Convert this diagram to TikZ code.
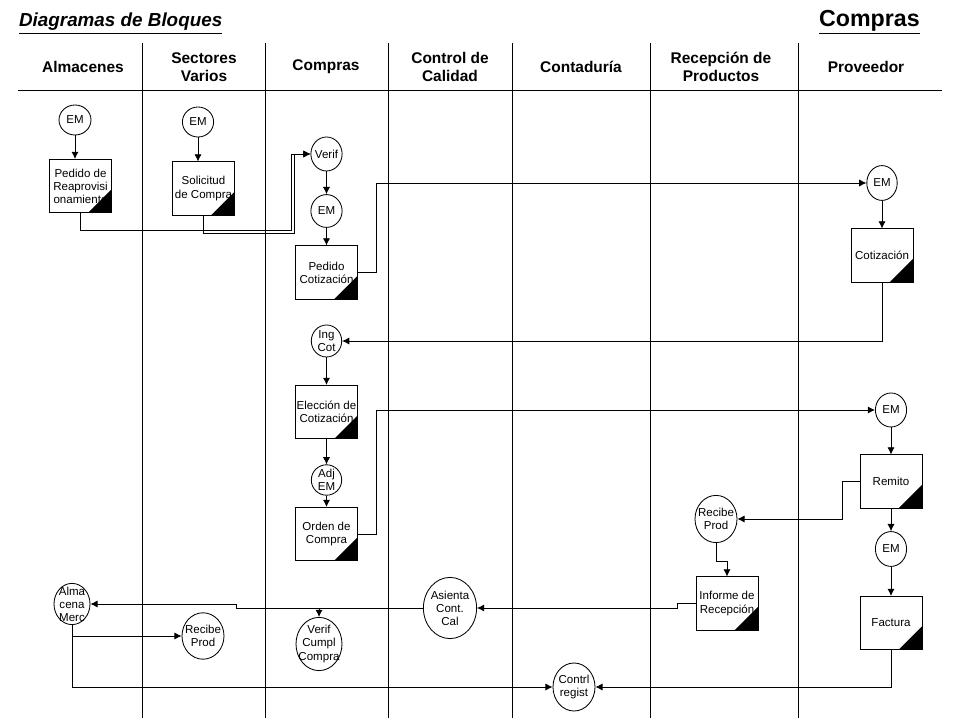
\documentclass[tikz,border=0pt]{standalone}
\usepackage{fontspec}
\setmainfont{Liberation Sans}
\usetikzlibrary{positioning, arrows.meta, shapes.geometric}

\newcommand{\textonodo}{\fontsize{8.2}{9.3}\selectfont}
\newcommand{\textocarril}{\fontsize{11}{12.8}\selectfont\bfseries}

\begin{document}
\begin{tikzpicture}[x=0.025cm, y=-0.025cm, line width=0.6pt,
    evento/.style={draw, ellipse, inner sep=-4pt, align=center, font=\textonodo, minimum width=0.78cm, minimum height=0.8cm},
    docu/.style={draw, rectangle, inner sep=1pt, align=center, font=\textonodo, minimum width=1.55cm, minimum height=1.33cm,
        path picture={\fill (path picture bounding box.south east) -- ++(-0.58cm,0) -- ++(0.58cm,0.58cm) -- cycle;}},
    carril/.style={align=center, font=\textocarril},
    flecha/.style={-{Latex[length=1.8mm,width=1.8mm]}}]
            \useasboundingbox (0,0) rectangle (960,720);
            % Carriles
            \foreach \x in {142,265,388,512,650,798} \draw (\x,43) -- (\x,718);
            \draw (18,90) -- (942,90);
            \node[anchor=base west, font=\fontsize{13.4}{16}\selectfont\bfseries\itshape] (titulo) at (14,27) {\underline{Diagramas de Bloques}};
            \node[anchor=base west, font=\fontsize{16.5}{20}\selectfont\bfseries] (area) at (814,27) {\underline{Compras}};
            \node[carril] (almacenes) at (83,67) {Almacenes};
            \node[carril] (sectores) at (204,67) {Sectores\\Varios};
            \node[carril] (compras) at (326,67) {Compras};
            \node[carril] (calidad) at (450,67) {Control de\\Calidad};
            \node[carril] (contaduria) at (581,67) {Contaduría};
            \node[carril] (recepcion) at (721,67) {Recepción de\\Productos};
            \node[carril] (proveedor) at (866,67) {Proveedor};

            % Almacenes y Sectores Varios
            \node[evento, minimum width=0.8cm, minimum height=0.75cm] (em1) at (75,120) {EM};
            \node[docu] (pedRea) at (80.5,186) {Pedido de\\Reaprovisi\\onamiento};
            \node[evento, minimum width=0.9cm, minimum height=1.03cm] (alma) at (72,604) {Alma\\cena\\Merc};
            \node[evento, minimum height=0.75cm] (em2) at (198,122) {EM};
            \node[docu] (solic) at (203.5,188.5) {Solicitud\\de Compra};
            \node[evento, minimum width=1.05cm, minimum height=1.16cm] (recSec) at (203,636) {Recibe\\Prod};

            % Compras
            \node[evento, minimum height=0.85cm] (verif) at (326.5,154) {Verif};
            \node[evento, minimum height=0.82cm] (em3) at (326.5,211) {EM};
            \node[docu] (pedCot) at (326.5,272.5) {Pedido\\Cotización};
            \node[evento, minimum width=0.76cm] (ingCot) at (326.5,341) {Ing\\Cot};
            \node[docu] (elec) at (326.5,412) {Elección de\\Cotización};
            \node[evento, minimum width=0.76cm, minimum height=0.76cm] (adj) at (326.5,480) {Adj\\EM};
            \node[docu] (orden) at (326.5,534) {Orden de\\Compra};
            \node[evento, minimum width=1.15cm, minimum height=1.33cm] (verifC) at (319,644) {Verif\\Cumpl\\Compra};

            % Control de Calidad, Contaduria y Recepcion
            \node[evento, minimum width=1.33cm, minimum height=1.53cm] (asienta) at (450,608) {Asienta\\Cont.\\Cal};
            \node[evento, minimum width=1.05cm, minimum height=1.2cm] (contrl) at (574,687) {Contrl\\regist};
            \node[evento, minimum width=1.05cm, minimum height=1.18cm] (recRec) at (716,519) {Recibe\\Prod};
            \node[docu] (informe) at (727,603.5) {Informe de\\Recepción};

            % Proveedor
            \node[evento, minimum width=0.76cm, minimum height=0.87cm] (em4) at (882,183) {EM};
            \node[docu] (cotiz) at (882,255.5) {Cotización};
            \node[evento, minimum height=0.85cm] (em5) at (891,410) {EM};
            \node[docu] (remito) at (891,481.5) {Remito};
            \node[evento, minimum height=0.87cm] (em6) at (891,549) {EM};
            \node[docu] (factura) at (891,623) {Factura};

            % Conectores
            \draw[flecha] (em1) -- (em1 |- pedRea.north);
            \draw[flecha] (em2) -- (em2 |- solic.north);
            \draw[flecha] (pedRea.south) |- (291,230) |- (verif.west);
            \draw[flecha] (solic.south) |- (294,233) |- (verif.west);
            \draw[flecha] (verif) -- (em3);
            \draw[flecha] (em3) -- (pedCot);
            \draw[flecha] (pedCot.east) -- ++(18,0) |- (em4.west);
            \draw[flecha] (em4) -- (cotiz);
            \draw[flecha] (cotiz.south) |- (ingCot.east);
            \draw[flecha] (ingCot) -- (elec);
            \draw[flecha] (elec) -- (adj);
            \draw[flecha] (adj) -- (orden);
            \draw[flecha] (orden.east) -- ++(18,0) |- (em5.west);
            \draw[flecha] (em5) -- (remito);
            \draw[flecha] (remito) -- (em6);
            \draw[flecha] (em6) -- (factura);
            \draw[flecha] (remito.west) -- ++(-17,0) |- (recRec.east);
            \draw[flecha] (recRec.south) -- ++(0,18) -| (informe.north);
            \draw[flecha] (informe.west) -- ++(-18,0) |- (asienta.east);
            \draw[flecha] (asienta.west) -- ++(-187,0) |- (alma.east);
            \draw[flecha] (verifC.north |- asienta.west) -- (verifC.north);
            \draw[flecha] (alma.south) |- (recSec.west);
            \draw[flecha] (alma.south) |- (contrl.west);
            \draw[flecha] (factura.south) |- (contrl.east);
        \end{tikzpicture}
\end{document}
